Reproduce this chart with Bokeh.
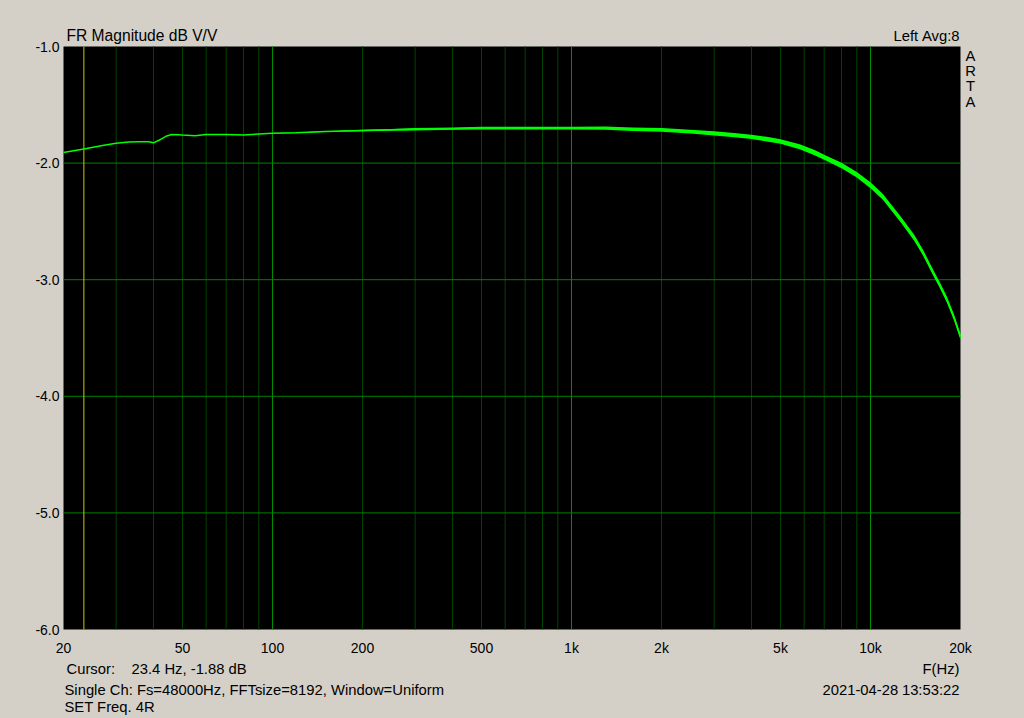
import math
from bokeh.plotting import figure
from bokeh.models import Range1d, BoxAnnotation, GlobalInlineStyleSheet
from bokeh.core.properties import value
from bokeh.embed import file_html
from bokeh.resources import INLINE

# ---- data ----
freq_hz = [20, 23.4, 27, 30, 33, 36, 38.5, 40, 42, 44, 46, 50, 55, 60, 70, 80, 90,
           100, 120, 150, 200, 250, 300, 400, 500, 700, 1000, 1300, 1600, 2000,
           2500, 3000, 3500, 4000, 4500, 5000, 5800, 6500, 7000, 8000, 9000,
           10000, 11000, 12600, 14000, 15000, 16200, 17000, 18000, 19000, 20000]
mag_db = [-1.91, -1.88, -1.85, -1.83, -1.82, -1.817, -1.817, -1.826, -1.80, -1.77,
          -1.755, -1.76, -1.765, -1.755, -1.755, -1.76, -1.75, -1.745, -1.74,
          -1.73, -1.72, -1.715, -1.71, -1.705, -1.70, -1.70, -1.70, -1.70, -1.71,
          -1.715, -1.73, -1.745, -1.76, -1.775, -1.795, -1.815, -1.86, -1.91,
          -1.95, -2.02, -2.10, -2.19, -2.29, -2.48, -2.64, -2.77, -2.94, -3.04,
          -3.17, -3.32, -3.49]
noise_db = [0, 0, 0, 0, 0, 0, 0, 0, 0, 0, 0, 0, 0, 0, 0, 0, 0,
            0, 0.002, 0.004, 0.006, 0.008, 0.01, 0.01, 0.012, 0.012, 0.012, 0.014,
            0.015, 0.016, 0.017, 0.018, 0.018, 0.019, 0.02, 0.02, 0.022, 0.022,
            0.022, 0.024, 0.024, 0.025, 0.025, 0.025, 0.025, 0.025, 0.025, 0.025,
            0.025, 0.025, 0.025]

minor_grid_hz = [30, 40, 50, 60, 70, 80, 90, 200, 300, 400, 500, 600, 700, 800, 900,
                 2000, 3000, 4000, 5000, 6000, 7000, 8000, 9000]
major_grid_hz = [100, 1000, 10000]
x_ticks_hz = [20, 50, 100, 200, 500, 1000, 2000, 5000, 10000, 20000]
x_tick_labels = ["20", "50", "100", "200", "500", "1k", "2k", "5k", "10k", "20k"]
y_ticks_db = [-1, -2, -3, -4, -5, -6]
y_grid_db = [-2, -3, -4, -5]
cursor_hz = [23.4]

BG = "#D4D0C8"
FONT = "Liberation Sans"
W, H = 1024, 718
FL, FT, FW, FH = 63, 46, 897, 583   # plot-area left/top/width/height in page px

x_lo, x_hi = x_ticks_hz[0], x_ticks_hz[-1]
y_lo, y_hi = min(y_ticks_db), max(y_ticks_db)
DEC = math.log10(x_hi / x_lo)


def fx(px):   # page pixel column -> frequency
    return x_lo * 10 ** ((px - FL) * DEC / FW)


def dy(py):   # page pixel row -> dB
    return y_hi - (py - FT) * (y_hi - y_lo) / FH


p = figure(width=W, height=H, x_axis_type="log",
           x_range=Range1d(fx(0), fx(W)), y_range=Range1d(dy(H), dy(0)),
           x_axis_location=None, y_axis_location=None,
           output_backend="svg", toolbar_location=None, min_border=0,
           background_fill_color=BG, border_fill_color=BG, outline_line_color=None)
p.stylesheets.append(GlobalInlineStyleSheet(css="body{background:%s;}" % BG))
p.xgrid.visible = False
p.ygrid.visible = False

# plot area
p.add_layout(BoxAnnotation(left=x_lo, right=x_hi, bottom=y_lo, top=y_hi,
                           fill_color="black", fill_alpha=1, line_color=None,
                           level="underlay"))

# grid lines
p.segment(x0=minor_grid_hz, x1=minor_grid_hz, y0=[y_lo] * len(minor_grid_hz),
          y1=[y_hi] * len(minor_grid_hz), line_color="#004400", line_width=1)
p.segment(x0=major_grid_hz, x1=major_grid_hz, y0=[y_lo] * len(major_grid_hz),
          y1=[y_hi] * len(major_grid_hz), line_color="#009000", line_width=1)
p.segment(x0=[x_lo] * len(y_grid_db), x1=[x_hi] * len(y_grid_db), y0=y_grid_db,
          y1=y_grid_db, line_color="#008000", line_width=1)

# cursor
p.segment(x0=cursor_hz, x1=cursor_hz, y0=[y_lo], y1=[y_hi],
          line_color="#c8c800", line_width=1)

# curve
lower = [m - n for m, n in zip(mag_db, noise_db)]
upper = [m + n for m, n in zip(mag_db, noise_db)]
p.varea(x=freq_hz, y1=lower, y2=upper, fill_color="#00ff00")
p.line(freq_hz, mag_db, line_color="#00ff00", line_width=1.5)

# axis tick labels
p.text(x=x_ticks_hz, y=[dy(647)] * len(x_ticks_hz), text=x_tick_labels,
       text_align="center", text_baseline="middle", text_font=value(FONT),
       text_font_size=value("14px"), text_color="black")
p.text(x=[fx(59)] * len(y_ticks_db), y=y_ticks_db,
       text=["%.1f" % v for v in y_ticks_db],
       text_align="right", text_baseline="middle", text_font=value(FONT),
       text_font_size=value("14px"), text_color="black")


def put(text, px, py, align="left", size="14.8px"):
    p.text(x=[fx(px)], y=[dy(py)], text=[text], text_align=align,
           text_baseline="middle", text_font=value(FONT),
           text_font_size=value(size), text_color="black")


put("FR Magnitude dB V/V", 66, 35, size="15.6px")
put("Left", 893, 35)
put("Avg:8", 959, 35, align="right")
for ch, yy in zip("ARTA", [55, 70, 85, 101]):
    put(ch, 970, yy, align="center")
put("Cursor:", 66, 668)
put("23.4 Hz, -1.88 dB", 131, 668)
put("Single Ch: Fs=48000Hz, FFTsize=8192, Window=Uniform", 64, 689)
put("SET Freq. 4R", 64, 706)
put("F(Hz)", 959, 668, align="right")
put("2021-04-28", 822, 689)
put("13:53:22", 959, 689, align="right")

open("out.html", "w").write(file_html(p, INLINE))
